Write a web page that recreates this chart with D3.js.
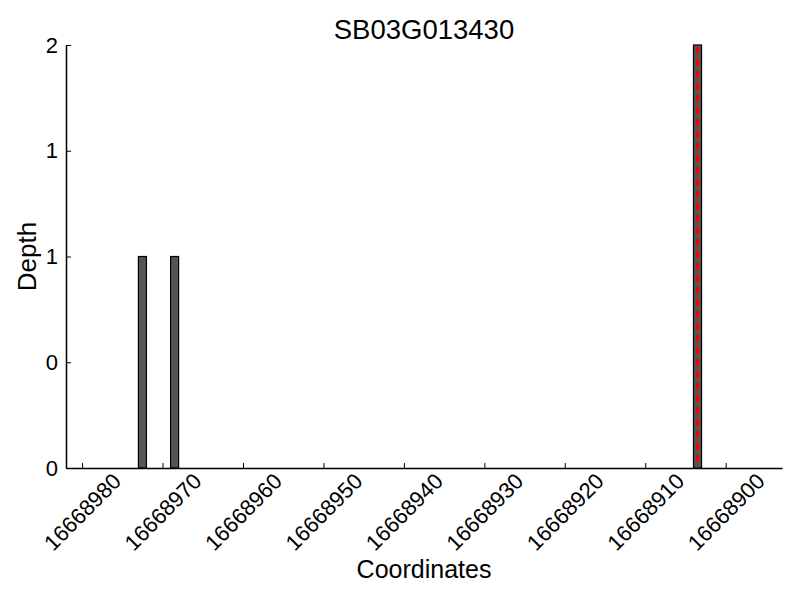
<!DOCTYPE html>
<html>
<head>
<meta charset="utf-8">
<script src="https://cdn.jsdelivr.net/npm/d3@7"></script>
<style>
  body { margin: 0; background: #fff; }
  text { font-family: "Liberation Sans", Arial, Helvetica, sans-serif; fill: #000; }
</style>
</head>
<body>
<svg id="chart" width="800" height="600"></svg>
<script>
const title = "SB03G013430";
const xLabel = "Coordinates";
const yLabel = "Depth";
const positions = [16668972, 16668968, 16668903];
const depths = [1, 1, 2];
const markerPositions = [16668903.5];
const xDomain = [16668982, 16668893];
const yDomain = [0, 2];
const xTicks = [16668980, 16668970, 16668960, 16668950, 16668940, 16668930, 16668920, 16668910, 16668900];
const yTicks = [0, 0.5, 1, 1.5, 2];

(function () {
const svg = d3.select("#chart");
const mLeft = 66, mRight = 782, mTop = 45, mBottom = 468;

const x = d3.scaleLinear().domain(xDomain).range([mLeft, mRight]);
const y = d3.scaleLinear().domain(yDomain).range([mBottom, mTop]);

// bars
svg.append("g").selectAll("rect")
  .data(positions.map((p, i) => ({p, d: depths[i]})))
  .join("rect")
  .attr("x", d => Math.min(x(d.p), x(d.p + 1)))
  .attr("width", d => Math.abs(x(d.p + 1) - x(d.p)))
  .attr("y", d => y(d.d))
  .attr("height", d => y(0) - y(d.d))
  .attr("fill", "#555555")
  .attr("stroke", "#000")
  .attr("stroke-width", 1.2);

// red dashed markers
svg.append("g").selectAll("line")
  .data(markerPositions)
  .join("line")
  .attr("x1", d => x(d)).attr("x2", d => x(d))
  .attr("y1", y(yDomain[1]) + 2).attr("y2", y(0))
  .attr("stroke", "#ff0000")
  .attr("stroke-width", 3)
  .attr("stroke-dasharray", "7,5");

// x axis
const xAxis = d3.axisBottom(x).tickValues(xTicks).tickSizeInner(-5).tickSizeOuter(0).tickFormat(d3.format("d"));
const gx = svg.append("g").attr("transform", `translate(0,${mBottom})`).call(xAxis);
gx.attr("font-size", 22);
gx.select(".domain").attr("stroke", "#000").attr("stroke-width", 1.5);
gx.selectAll(".tick line").attr("stroke", "#000");
gx.selectAll(".tick text")
  .attr("font-size", 22)
  .attr("fill", "#000")
  .attr("text-anchor", "middle")
  .attr("dominant-baseline", "central")
  .attr("y", 0).attr("dy", null)
  .attr("transform", "translate(0,44) rotate(-45)");

// y axis
const yAxis = d3.axisLeft(y).tickValues(yTicks).tickSizeInner(-5).tickSizeOuter(0).tickPadding(8)
  .tickFormat(d => String(Math.floor(d)));
const gy = svg.append("g").attr("transform", `translate(${mLeft},0)`).call(yAxis);
gy.attr("font-size", 22);
gy.select(".domain").attr("stroke", "#000").attr("stroke-width", 1.5);
gy.selectAll(".tick line").attr("stroke", "#000");
gy.selectAll(".tick text")
  .attr("font-size", 22)
  .attr("fill", "#000")
  .attr("x", -8);

// title
svg.append("text")
  .attr("x", (mLeft + mRight) / 2).attr("y", 39)
  .attr("text-anchor", "middle")
  .attr("font-size", 27.5)
  .text(title);

// x label
svg.append("text")
  .attr("x", (mLeft + mRight) / 2).attr("y", 578)
  .attr("text-anchor", "middle")
  .attr("font-size", 25)
  .text(xLabel);

// y label
svg.append("text")
  .attr("transform", `translate(36,${(mTop + mBottom) / 2}) rotate(-90)`)
  .attr("text-anchor", "middle")
  .attr("font-size", 26)
  .text(yLabel);
})();
</script>
</body>
</html>
